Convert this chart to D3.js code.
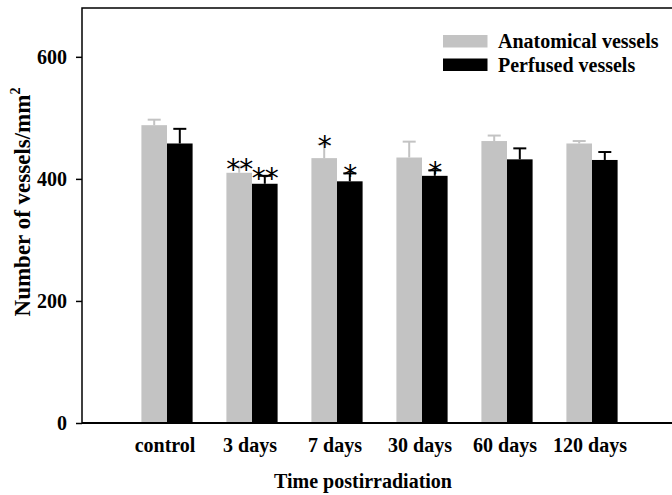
<!DOCTYPE html>
<html>
<head>
<meta charset="utf-8">
<script src="https://cdn.jsdelivr.net/npm/d3@7"></script>
<style>
  body { margin: 0; background: #fff; }
  text { font-family: "Liberation Serif", "Times New Roman", serif; font-weight: bold; fill: #000; }
</style>
</head>
<body>
<svg id="chart" width="672" height="495"></svg>
<script>
// Data.
var categories = ["control", "3 days", "7 days", "30 days", "60 days", "120 days"];
var seriesNames = ["Anatomical vessels", "Perfused vessels"];
var anatomical = [488, 410, 434, 435, 462, 458];
var anatomicalErr = [9, 10, 23, 26, 9, 4];
var perfused = [458, 392, 396, 405, 432, 431];
var perfusedErr = [24, 13, 13, 9, 18, 13];
var anatomicalSig = ["", "**", "*", "", "", ""];
var perfusedSig = ["", "**", "*", "*", "", ""];
var yTicks = [0, 200, 400, 600];
var colors = ["#c3c3c3", "#000000"];

var chart = {};
chart.draw = function() {
    const margin = { top: 8, left: 82, bottom: 72 };
    const height = 495 - margin.top - margin.bottom;
    const plotRight = 677;

    var svg = d3.select("#chart");

    var rows = categories.map(function(c, i) {
        return [
            { cat: c, s: 0, value: anatomical[i], err: anatomicalErr[i], sig: anatomicalSig[i] },
            { cat: c, s: 1, value: perfused[i], err: perfusedErr[i], sig: perfusedSig[i] }
        ];
    });
    var flat = [].concat.apply([], rows);

    var xScale = d3.scaleBand()
        .domain(categories)
        .range([margin.left + 42.5, plotRight - 42.5]);

    var xSub = d3.scaleBand()
        .domain([0, 1])
        .range([0, xScale.bandwidth()])
        .paddingInner(0)
        .paddingOuter(0.66);

    var yScale = d3.scaleLinear()
        .domain([0, 680])
        .range([margin.top + height, margin.top]);

    // frame
    svg.append("rect")
        .attr("x", margin.left)
        .attr("y", margin.top)
        .attr("width", plotRight - margin.left)
        .attr("height", height)
        .attr("fill", "none")
        .attr("stroke", "#000")
        .attr("stroke-width", 1.5);

    // bars
    svg.append("g").selectAll("rect")
        .data(flat)
        .enter().append("rect")
        .attr("x", function(d) { return xScale(d.cat) + xSub(d.s); })
        .attr("width", xSub.bandwidth())
        .attr("y", function(d) { return yScale(d.value); })
        .attr("height", function(d) { return yScale(0) - yScale(d.value); })
        .attr("fill", function(d) { return colors[d.s]; });

    // error bars
    var eb = svg.append("g").selectAll("g")
        .data(flat)
        .enter().append("g")
        .attr("stroke", function(d) { return colors[d.s]; })
        .attr("stroke-width", 2);
    eb.append("line")
        .attr("x1", function(d) { return xScale(d.cat) + xSub(d.s) + xSub.bandwidth() / 2; })
        .attr("x2", function(d) { return xScale(d.cat) + xSub(d.s) + xSub.bandwidth() / 2; })
        .attr("y1", function(d) { return yScale(d.value); })
        .attr("y2", function(d) { return yScale(d.value + d.err); });
    eb.append("line")
        .attr("x1", function(d) { return xScale(d.cat) + xSub(d.s) + xSub.bandwidth() / 2 - 6.5; })
        .attr("x2", function(d) { return xScale(d.cat) + xSub(d.s) + xSub.bandwidth() / 2 + 6.5; })
        .attr("y1", function(d) { return yScale(d.value + d.err); })
        .attr("y2", function(d) { return yScale(d.value + d.err); });

    // significance stars
    svg.append("g").selectAll("text")
        .data(flat.filter(function(d) { return d.sig; }))
        .enter().append("text")
        .attr("x", function(d) { return xScale(d.cat) + xSub(d.s) + xSub.bandwidth() / 2; })
        .attr("y", function(d) { return yScale(d.value + d.err) + 12; })
        .attr("text-anchor", "middle")
        .style("font-family", "'DejaVu Sans', sans-serif")
        .style("font-weight", "normal")
        .style("font-size", "28px")
        .style("letter-spacing", "-1px")
        .text(function(d) { return d.sig; });

    // y axis
    var yAxis = svg.append("g")
        .attr("transform", "translate(" + margin.left + ",0)")
        .call(d3.axisLeft(yScale).tickValues(yTicks).tickSize(6).tickSizeOuter(0).tickPadding(9));
    yAxis.select(".domain").remove();
    yAxis.selectAll(".tick line").attr("stroke-width", 1.5);
    yAxis.selectAll("text")
        .attr("font-family", null)
        .attr("font-size", null)
        .style("font-size", "20px");

    // x axis base line
    svg.append("line")
        .attr("x1", margin.left).attr("x2", plotRight)
        .attr("y1", yScale(0)).attr("y2", yScale(0))
        .attr("stroke", "#000").attr("stroke-width", 2);

    // x labels
    svg.append("g").selectAll("text")
        .data(categories)
        .enter().append("text")
        .attr("x", function(d) { return xScale(d) + xScale.bandwidth() / 2 - 2; })
        .attr("y", 452)
        .attr("text-anchor", "middle")
        .style("font-size", "20px")
        .text(function(d) { return d; });

    svg.append("text")
        .attr("x", 363)
        .attr("y", 488)
        .attr("text-anchor", "middle")
        .style("font-size", "20px")
        .text("Time postirradiation");

    var yt = svg.append("text")
        .attr("transform", "translate(30,202) rotate(-90)")
        .attr("text-anchor", "middle")
        .style("font-size", "23px");
    yt.append("tspan").text("Number of vessels/mm");
    yt.append("tspan").attr("dy", -10).style("font-size", "14px").text("2");

    // legend
    var legend = svg.append("g").selectAll("g")
        .data(seriesNames)
        .enter().append("g")
        .attr("transform", function(d, i) { return "translate(443," + (35 + i * 23.5) + ")"; });
    legend.append("rect")
        .attr("width", 44.5)
        .attr("height", 12.5)
        .attr("fill", function(d, i) { return colors[i]; });
    legend.append("text")
        .attr("x", 55)
        .attr("y", 13)
        .style("font-size", "20px")
        .text(function(d) { return d; });
};
chart.draw();
</script>
</body>
</html>
